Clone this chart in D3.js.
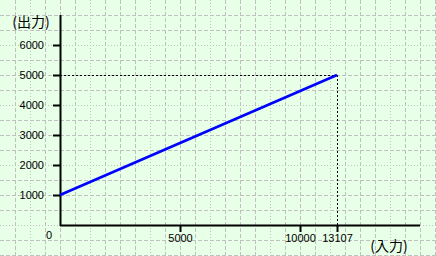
<!DOCTYPE html>
<html><head><meta charset="utf-8">
<script src="https://cdn.jsdelivr.net/npm/d3@7"></script>
<style>
html,body{margin:0;padding:0;background:#e8ffe8;overflow:hidden;}
text{fill:#000;}
.num{font-family:"Liberation Sans",Arial,sans-serif;font-size:11px;}
.jp{font-family:"Noto Sans CJK JP",sans-serif;}
</style></head>
<body>
<script>
// ---- data ----
const lineInput = [0, 13107];
const lineOutput = [1000, 5000];
const yTicks = [1000, 2000, 3000, 4000, 5000, 6000];
const xTicks = [5000, 10000, 13107];
const markInput = 13107, markOutput = 5000;
const xAxisLabel = "(入力)";
const yAxisLabel = "(出力)";
const originLabel = "0";

const W = 436, H = 256;
const svg = d3.select("body").append("svg").attr("width", W).attr("height", H);

// background grid
const bg = svg.append("g");
bg.append("rect").attr("width", W).attr("height", H).attr("fill", "#e8ffe8");
const gx = d3.range(15, W, 15), gy = d3.range(15, H, 15);
bg.selectAll("line.v").data(gx).join("line")
  .attr("x1", d => d + 0.5).attr("x2", d => d + 0.5).attr("y1", 0).attr("y2", H)
  .attr("stroke", "#c0c0c0").attr("stroke-width", 1)
  .attr("stroke-dasharray", d => (d % 60 === 30) ? "1,2" : "4,2");
bg.selectAll("line.h").data(gy).join("line")
  .attr("y1", d => d + 0.5).attr("y2", d => d + 0.5).attr("x1", 0).attr("x2", W)
  .attr("stroke", "#c0c0c0").attr("stroke-width", 1)
  .attr("stroke-dasharray", d => (d % 60 === 45) ? "1,2" : "4,2");

// scales (x axis is drawn schematically: 13107 sits just right of 10000)
const x = d3.scaleLinear().domain([0, 5000, 10000, 13107, 15000]).range([60, 180, 300, 337, 420]);
const y = d3.scaleLinear().domain([0, 7000]).range([225, 15]);

// guide lines
svg.append("line").attr("x1", x(0)).attr("x2", x(markInput))
  .attr("y1", y(markOutput) + 0.5).attr("y2", y(markOutput) + 0.5)
  .attr("stroke", "#000").attr("stroke-dasharray", "2,2");
svg.append("line").attr("x1", x(markInput) + 0.5).attr("x2", x(markInput) + 0.5)
  .attr("y1", y(markOutput)).attr("y2", y(0))
  .attr("stroke", "#000").attr("stroke-dasharray", "2,2");

// axes
const yAxis = d3.axisLeft(y).tickValues(yTicks).tickSize(7).tickPadding(9).tickFormat(d3.format("d"));
const gY = svg.append("g").attr("transform", `translate(${x(0)},0)`).call(yAxis);
gY.attr("font-size", null).attr("font-family", null);
gY.select(".domain").remove();
gY.selectAll(".tick line").attr("stroke", "#000").attr("stroke-width", 2);
gY.selectAll(".tick text").attr("class", "num").attr("dy", "0.36em");

const xAxis = d3.axisBottom(x).tickValues(xTicks).tickSize(7).tickPadding(2).tickFormat(d3.format("d"));
const gX = svg.append("g").attr("transform", `translate(0,${y(0)})`).call(xAxis);
gX.attr("font-size", null).attr("font-family", null);
gX.select(".domain").remove();
gX.selectAll(".tick line").attr("stroke", "#000").attr("stroke-width", 2);
gX.selectAll(".tick text").attr("class", "num");

svg.append("line").attr("x1", x(0) + 0.5).attr("x2", x(0) + 0.5).attr("y1", y(7000)).attr("y2", y(0) + 1)
  .attr("stroke", "#000").attr("stroke-width", 2);
svg.append("line").attr("x1", x(0)).attr("x2", x(15000)).attr("y1", y(0) + 0.5).attr("y2", y(0) + 0.5)
  .attr("stroke", "#000").attr("stroke-width", 2);

// data line
svg.append("path")
  .datum(lineInput.map((v, i) => [v, lineOutput[i]]))
  .attr("d", d3.line().x(d => x(d[0])).y(d => y(d[1])))
  .attr("fill", "none").attr("stroke", "#0000ff").attr("stroke-width", 2.6);

// labels
svg.append("text").attr("class", "jp").attr("x", 31).attr("y", 27).attr("text-anchor", "middle")
  .attr("font-size", 14).text(yAxisLabel);
svg.append("text").attr("class", "jp").attr("x", 389).attr("y", 251).attr("text-anchor", "middle")
  .attr("font-size", 14).text(xAxisLabel);
svg.append("text").attr("class", "num").attr("x", 49).attr("y", 239).attr("text-anchor", "middle")
  .text(originLabel);
</script>
</body></html>
